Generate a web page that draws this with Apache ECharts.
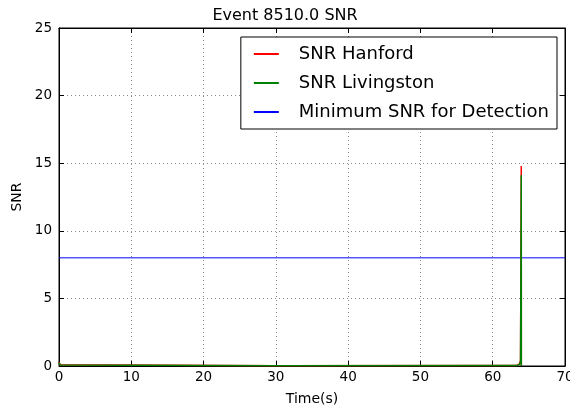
<!DOCTYPE html>
<html>
<head>
<meta charset="utf-8">
<script src="https://cdn.jsdelivr.net/npm/echarts@6/dist/echarts.min.js"></script>
<style>html,body{margin:0;padding:0;background:#fff}#c{width:570px;height:412px}</style>
</head>
<body>
<div id="c"></div>
<script>
const title = 'Event 8510.0 SNR';
const timeH = [0, 0.15, 0.4, 30, 63.3, 63.7, 63.85, 63.95, 63.96];
const snrH = [0.3, 0.1, 0.03, 0.02, 0.03, 0.15, 0.4, 14.8, 0];
const timeL = [0, 0.15, 0.4, 30, 63.3, 63.7, 63.85, 63.95, 63.96];
const snrL = [0.25, 0.08, 0.03, 0.02, 0.03, 0.12, 0.35, 14.1, 0];
const minTime = [0, 70];
const minSNR = [8, 8];
const xTicks = [0, 10, 20, 30, 40, 50, 60, 70];
const yTicks = [0, 5, 10, 15, 20, 25];

const zip = (a, b) => a.map((v, i) => [v, b[i]]);
const font = 'DejaVu Sans';
const chart = echarts.init(document.getElementById('c'));
const axisCommon = {
  type: 'value',
  axisLine: { show: true, onZero: false, lineStyle: { color: '#000', width: 1 } },
  axisTick: { show: true, inside: true, length: 5, lineStyle: { color: '#000' } },
};
chart.setOption({
  animation: false,
  backgroundColor: '#fff',
  title: { text: title, left: 'center', top: 3, textStyle: { fontFamily: font, fontSize: 16, fontWeight: 'normal', color: '#000' } },
  grid: { left: 59, right: 5, top: 28, bottom: 46, show: true, borderColor: '#000', borderWidth: 1, containLabel: false, outerBoundsMode: 'none' },
  xAxis: [
    Object.assign({}, axisCommon, {
      min: xTicks[0], max: xTicks[xTicks.length - 1], interval: 10,
      name: 'Time(s)', nameLocation: 'middle', nameGap: 26,
      nameTextStyle: { fontFamily: font, fontSize: 14, color: '#000' },
      axisLabel: { fontFamily: font, fontSize: 13.5, color: '#000', margin: 4, hideOverlap: false },
      splitLine: { show: true, lineStyle: { color: '#888', type: [1, 3], width: 1 } }
    }),
    Object.assign({}, axisCommon, {
      position: 'top', min: 0, max: 70, interval: 10,
      axisLabel: { show: false }, splitLine: { show: false }
    })
  ],
  yAxis: [
    Object.assign({}, axisCommon, {
      min: yTicks[0], max: yTicks[yTicks.length - 1], interval: 5,
      name: 'SNR', nameLocation: 'middle', nameGap: 34,
      nameTextStyle: { fontFamily: font, fontSize: 14, color: '#000' },
      axisLabel: { fontFamily: font, fontSize: 13.5, color: '#000', margin: 7 },
      splitLine: { show: true, lineStyle: { color: '#888', type: [1, 3], width: 1 } }
    }),
    Object.assign({}, axisCommon, {
      position: 'right', min: 0, max: 25, interval: 5,
      axisLabel: { show: false }, splitLine: { show: false }
    })
  ],
  legend: {
    orient: 'vertical', right: 13, top: 37,
    itemWidth: 25, itemHeight: 2, itemGap: 11,
    padding: [8, 8, 8, 13],
    borderColor: '#000', borderWidth: 1, backgroundColor: '#fff',
    textStyle: { fontFamily: font, fontSize: 18, color: '#000', padding: [0, 0, 0, 15] },
    icon: 'rect',
    data: ['SNR Hanford', 'SNR Livingston', 'Minimum SNR for Detection']
  },
  series: [
    { name: 'SNR Hanford', type: 'line', data: zip(timeH, snrH), showSymbol: false, symbol: 'none', color: '#ff0000', lineStyle: { width: 1.5, color: '#ff0000' }, z: 2 },
    { name: 'SNR Livingston', type: 'line', data: zip(timeL, snrL), showSymbol: false, symbol: 'none', color: '#008000', lineStyle: { width: 1.5, color: '#008000' }, z: 3 },
    { name: 'Minimum SNR for Detection', type: 'line', data: zip(minTime, minSNR), showSymbol: false, symbol: 'none', color: '#0000ff', lineStyle: { width: 1, color: '#0000ff' }, z: 1 }
  ]
});
</script>
</body>
</html>
